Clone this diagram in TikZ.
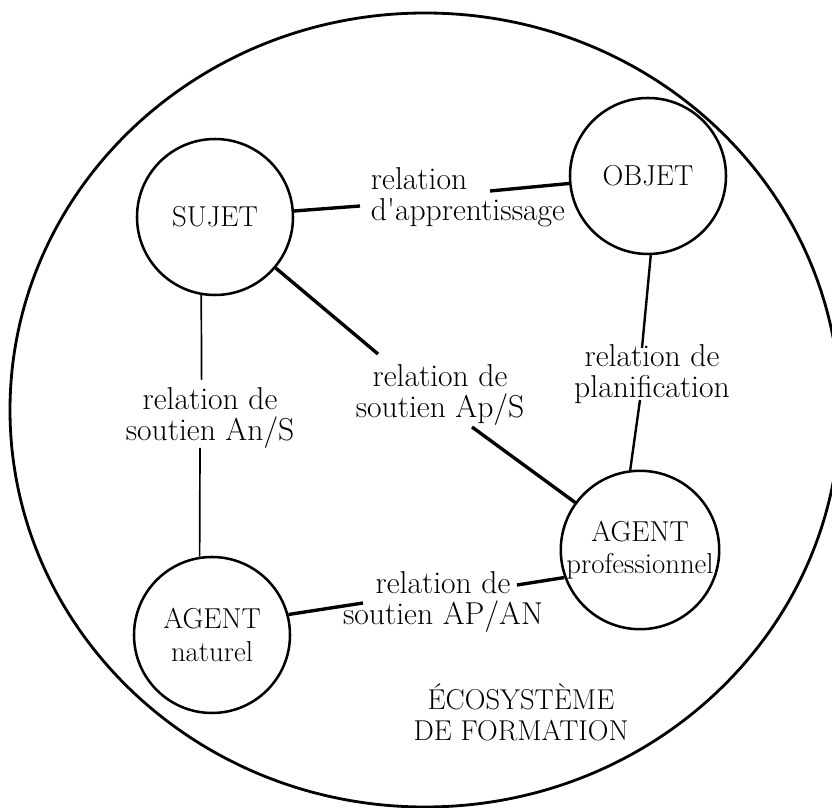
\documentclass[tikz,border=0pt]{standalone}
\usepackage{tikz}

\begin{document}
\begin{tikzpicture}[scale=1,
  etat/.style={circle, draw, line width=1.8pt, minimum size=3.9cm, inner sep=0pt, align=center, font=\fontsize{20.5}{23}\selectfont},
  etiq/.style={align=center, font=\fontsize{22.5}{22}\selectfont},
  lien/.style={line width=2.4pt},
  lienmoy/.style={line width=1.7pt},
  lienfin/.style={line width=1.2pt}]
\useasboundingbox (0,0) rectangle (20.8,20.2);
\clip (0,0) rectangle (20.8,20.2);
\draw [line width=2pt] (10.625,9.95) ellipse (10.375 and 9.925);
% les quatre poles
\node[etat] (sujet) at (5.375,14.775) {SUJET};
\node[etat] (objet) at (16.2,15.8) {OBJET};
\node[etat] (naturel) at (5.3,4.325) {AGENT\\naturel};
\node[etat, minimum size=3.75cm] (pro) at (16,6.45) {AGENT\\professionnel};
% les relations
\node[etiq, align=left, anchor=west] (apprent) at (9.15,15.275) {relation\\d\textquotesingle apprentissage};
\node[etiq] (soutienAnS) at (5.25,9.75) {relation de\\soutien An/S};
\node[etiq] (soutienApS) at (11.0,10.325) {relation de\\soutien Ap/S};
\node[etiq] (planif) at (16.3,10.85) {relation de\\planification};
\node[etiq] (soutienAPAN) at (11.075,5.15) {relation de\\soutien AP/AN};
\node[etiq, font=\fontsize{20.4}{22}\selectfont] (ecosys) at (13.025,2.4) {ÉCOSYSTÈME\\DE FORMATION};
\coordinate (a1) at (9.0,15.05);
\coordinate (a2) at (12.25,15.425);
\coordinate (b1) at (9.45,11.35);
\coordinate (b2) at (11.8,9.525);
\coordinate (c1) at (5.04,10.7);
\coordinate (c2) at (5.0,9.0);
\coordinate (d1) at (16.05,11.5);
\coordinate (d2) at (16.0,10.2);
\coordinate (e1) at (9.075,5.125);
\coordinate (e2) at (12.925,5.575);
\draw[lien] (sujet) -- (a1);
\draw[lien] (a2) -- (objet);
\draw[lien] (sujet) -- (b1);
\draw[lien] (b2) -- (pro);
\draw[lienfin] (sujet.260) -- (c1);
\draw[lienfin] (c2) -- (naturel.99);
\draw[lienmoy] (objet.272) -- (d1);
\draw[lienmoy] (d2) -- (pro.97);
\draw[lien] (naturel.15) -- (e1);
\draw[lien] (e2) -- (pro.200);
\end{tikzpicture}
\end{document}
